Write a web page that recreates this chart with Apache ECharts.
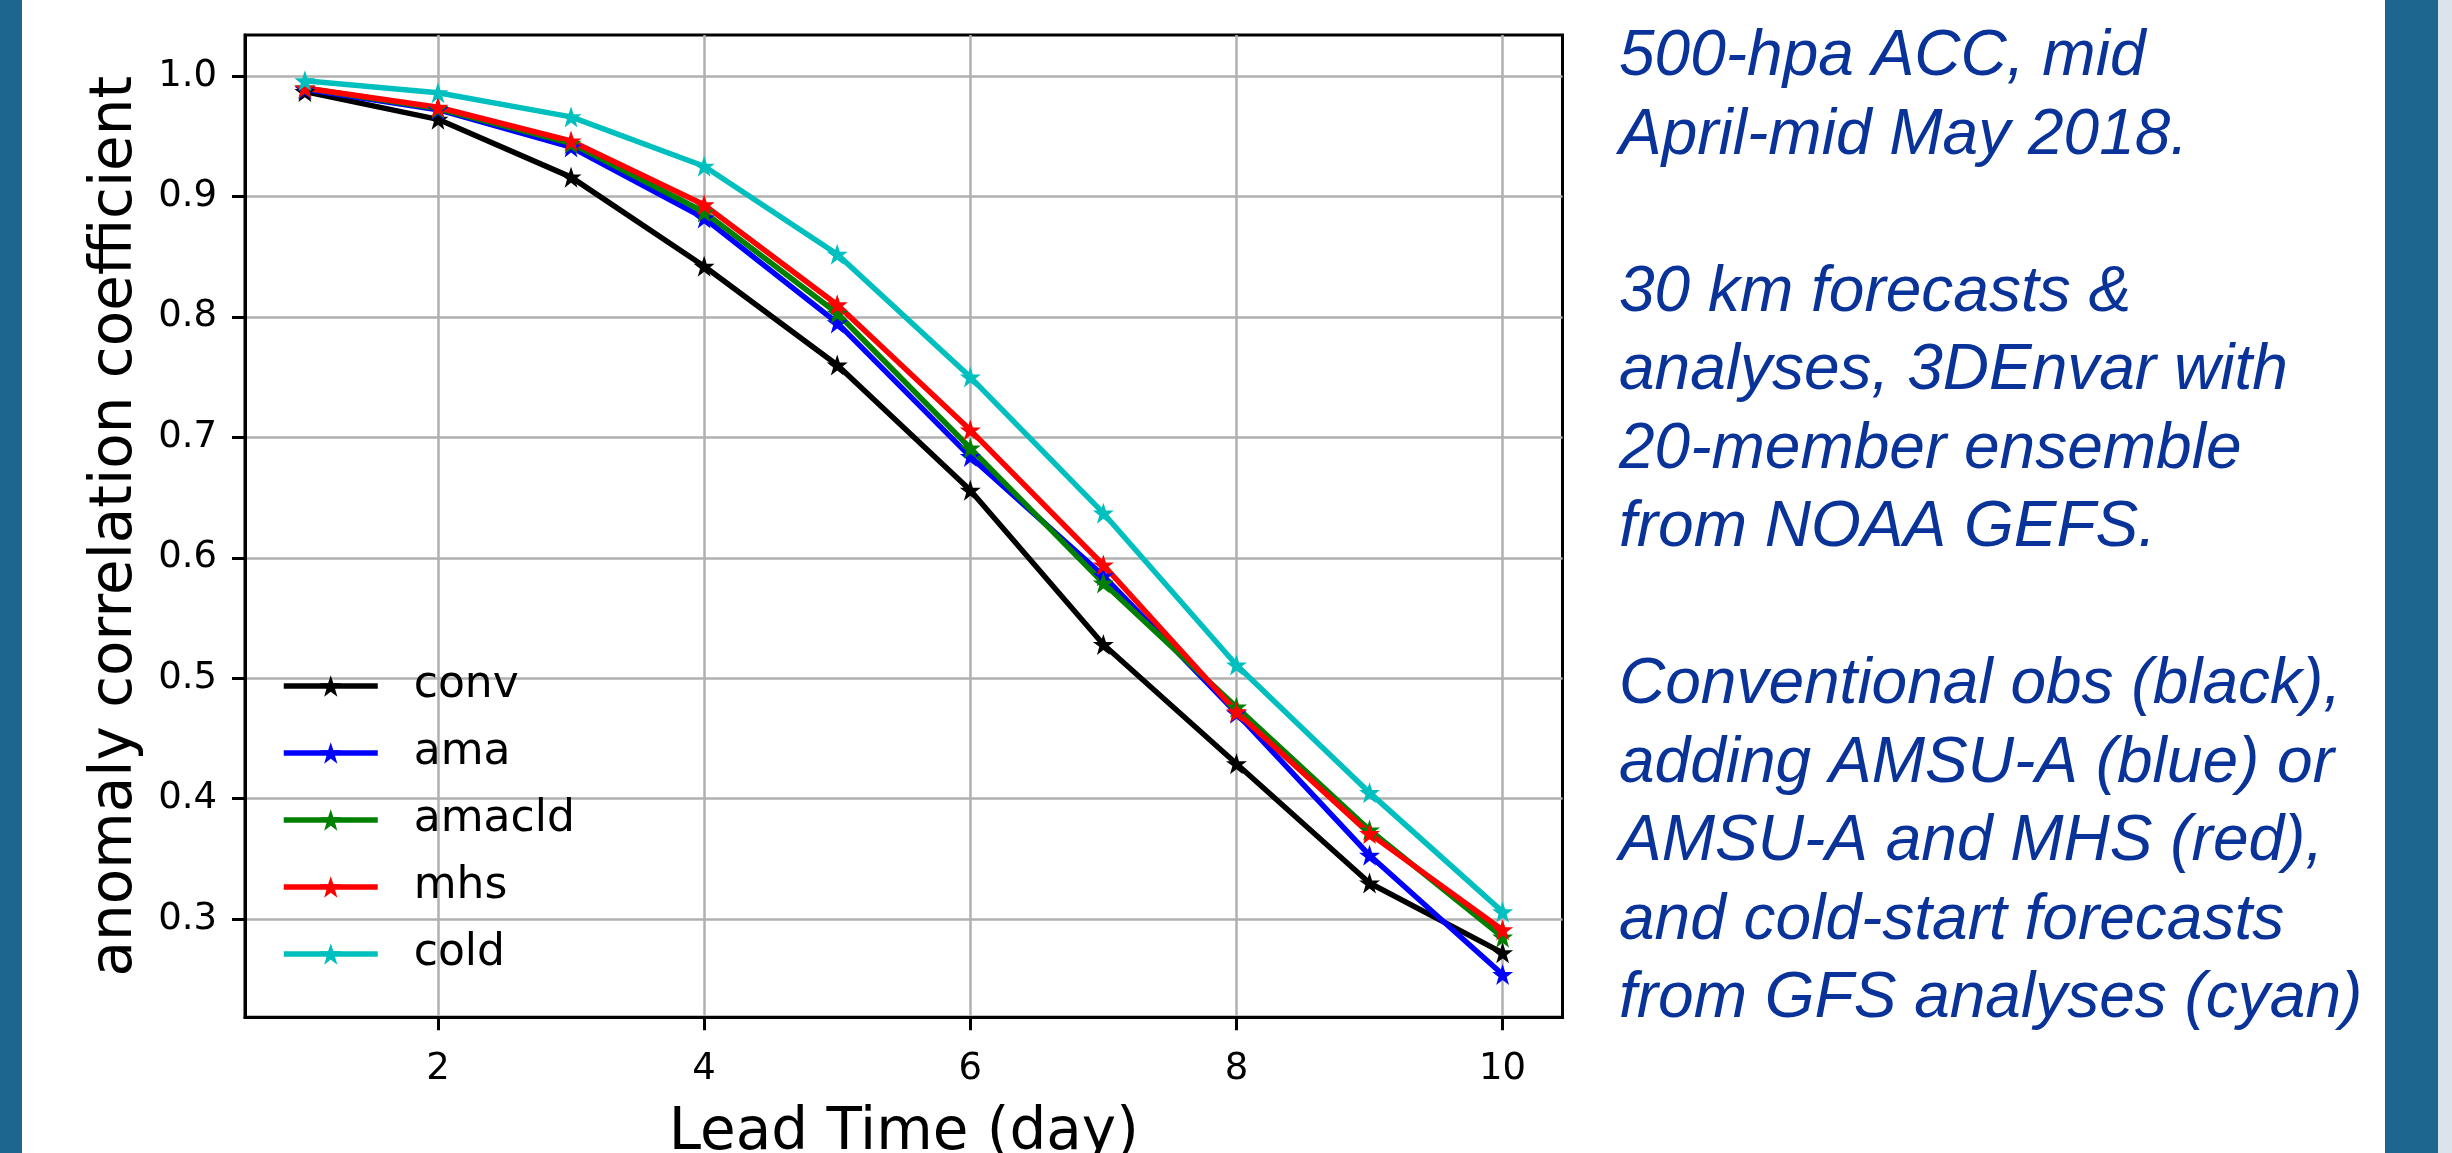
<!DOCTYPE html>
<html>
<head>
<meta charset="utf-8">
<style>
html,body{margin:0;padding:0;background:#fff;}
#chart{width:2452px;height:1153px;}
</style>
<script src="https://cdn.jsdelivr.net/npm/echarts@6/dist/echarts.min.js"></script>
</head>
<body>
<div id="chart"></div>
<script>
// ---- data ----
const days = [1, 2, 3, 4, 5, 6, 7, 8, 9, 10];
const conv   = [0.987, 0.964, 0.916, 0.842, 0.760, 0.656, 0.528, 0.429, 0.330, 0.272];
const ama    = [0.989, 0.972, 0.941, 0.882, 0.795, 0.684, 0.585, 0.471, 0.353, 0.254];
const amacld = [0.990, 0.973, 0.944, 0.887, 0.803, 0.691, 0.579, 0.476, 0.374, 0.285];
const mhs    = [0.990, 0.974, 0.946, 0.893, 0.810, 0.706, 0.594, 0.472, 0.371, 0.291];
const cold   = [0.996, 0.986, 0.966, 0.925, 0.852, 0.750, 0.637, 0.511, 0.405, 0.306];
const seriesNames = ['conv', 'ama', 'amacld', 'mhs', 'cold'];
const xTicks = [2, 4, 6, 8, 10];
const yTicks = [0.3, 0.4, 0.5, 0.6, 0.7, 0.8, 0.9, 1.0];
const xTitle = 'Lead Time (day)';
const yTitle = 'anomaly correlation coefficient';
const noteLines = [
  '500-hpa ACC, mid',
  'April-mid May 2018.',
  '',
  '30 km forecasts &',
  'analyses, 3DEnvar with',
  '20-member ensemble',
  'from NOAA GEFS.',
  '',
  'Conventional obs (black),',
  'adding AMSU-A (blue) or',
  'AMSU-A and MHS (red),',
  'and cold-start forecasts',
  'from GFS analyses (cyan)'
];

// ---- styling ----
const colors = ['#000000', '#0000ff', '#008000', '#ff0000', '#00bfbf'];
const values = [conv, ama, amacld, mhs, cold];
const STAR = 'path://M50,2 L62,37 L99,37 L69,59 L80,95 L50,73 L20,95 L31,59 L1,37 L38,37 Z';
const FONT = 'DejaVu Sans';

const series = seriesNames.map((n, i) => ({
  name: n,
  type: 'line',
  data: days.map((d, k) => [d, values[i][k]]),
  symbol: STAR,
  symbolSize: 21,
  showAllSymbol: true,
  color: colors[i],
  lineStyle: { width: 5.5, color: colors[i] },
  itemStyle: { color: colors[i] },
  emphasis: { disabled: true },
  animation: false
}));

const chart = echarts.init(document.getElementById('chart'), null, { renderer: 'canvas' });
chart.setOption({
  backgroundColor: '#ffffff',
  animation: false,
  grid: {
    left: 245, top: 35, right: 889.5, bottom: 135.7,
    containLabel: false, outerBoundsMode: 'none',
    show: true, borderColor: '#000', borderWidth: 3, backgroundColor: 'transparent'
  },
  xAxis: {
    type: 'value', min: 0.55, max: 10.45,
    name: xTitle, nameLocation: 'middle', nameGap: 88,
    nameTextStyle: { fontFamily: FONT, fontSize: 58, color: '#000' },
    axisLine: { show: true, onZero: false, lineStyle: { color: '#000', width: 3 } },
    axisTick: { show: true, inside: false, length: 13, lineStyle: { color: '#000', width: 3 }, customValues: xTicks },
    axisLabel: { customValues: xTicks, margin: 34, fontFamily: FONT, fontSize: 37, color: '#000',
      formatter: v => String(v) },
    splitLine: { show: true, lineStyle: { color: '#b0b0b0', width: 2.5 } }
  },
  yAxis: {
    type: 'value', min: 0.2185, max: 1.034,
    name: yTitle, nameLocation: 'middle', nameGap: 100, nameRotate: 90,
    nameTextStyle: { fontFamily: FONT, fontSize: 58, color: '#000' },
    axisLine: { show: true, onZero: false, lineStyle: { color: '#000', width: 3 } },
    axisTick: { show: true, inside: false, length: 13, lineStyle: { color: '#000', width: 3 }, customValues: yTicks },
    axisLabel: { customValues: yTicks, margin: 28, fontFamily: FONT, fontSize: 37, color: '#000',
      formatter: v => Number(v).toFixed(1) },
    splitLine: { show: true, lineStyle: { color: '#b0b0b0', width: 2.5 } }
  },
  legend: {
    data: seriesNames,
    orient: 'vertical',
    left: 281, top: 661,
    padding: 0,
    itemWidth: 94, itemHeight: 27, itemGap: 17,
    lineStyle: { width: 5.5 },
    textStyle: { fontFamily: FONT, fontSize: 44, color: '#000', lineHeight: 50, padding: [0, 0, 0, 31] },
    selectedMode: false
  },
  graphic: [
    { type: 'rect', left: 0, top: 0, shape: { width: 22, height: 1153 }, style: { fill: '#1d6690' } },
    { type: 'rect', left: 2385, top: 0, shape: { width: 53, height: 1153 }, style: { fill: '#1d6690' } },
    { type: 'rect', left: 2438, top: 0, shape: { width: 14, height: 1153 }, style: { fill: '#dce3ea' } },
    { type: 'text', left: 1619, top: 18,
      style: { text: noteLines.join('\n'), font: 'italic 64px "Liberation Sans", Arial, sans-serif',
               fill: '#0a3399', lineHeight: 78.5 } }
  ],
  series: series
});
</script>
</body>
</html>
